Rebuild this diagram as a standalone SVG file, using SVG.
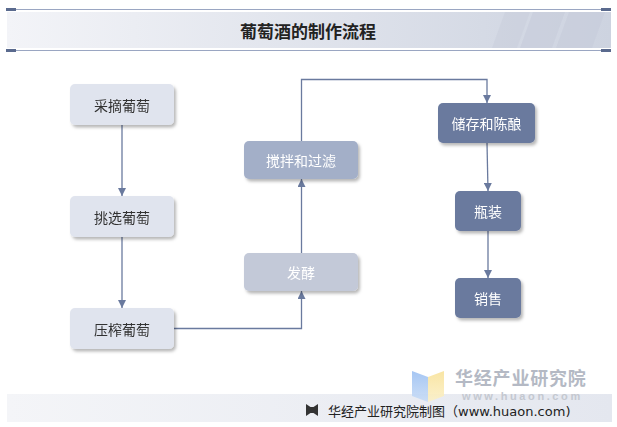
<svg xmlns="http://www.w3.org/2000/svg" width="617" height="427" viewBox="0 0 617 427">
<defs>
<linearGradient id="tg" x1="0" y1="0" x2="1" y2="0">
<stop offset="0" stop-color="#f3f4f8"/>
<stop offset="1" stop-color="#cdd3e0"/>
</linearGradient>
<linearGradient id="fg" x1="0" y1="0" x2="1" y2="0">
<stop offset="0" stop-color="#f4f5f8"/>
<stop offset="1" stop-color="#e4e7ef"/>
</linearGradient>
<linearGradient id="wb" x1="0" y1="0" x2="0" y2="1">
<stop offset="0" stop-color="#9cc0f2"/>
<stop offset="1" stop-color="#c8dcf6"/>
</linearGradient>
<linearGradient id="wy" x1="0" y1="0" x2="0" y2="1">
<stop offset="0" stop-color="#f8e29a"/>
<stop offset="1" stop-color="#fbf0c8"/>
</linearGradient>
<filter id="sh" x="-10%" y="-10%" width="125%" height="140%">
<feDropShadow dx="2" dy="2.5" stdDeviation="1.5" flood-color="#000" flood-opacity="0.28"/>
</filter>
<marker id="ar" markerWidth="8" markerHeight="8" viewBox="0 0 8 8" refX="8" refY="4" orient="auto" markerUnits="userSpaceOnUse">
<path d="M0,0 L8,4 L0,8 z" fill="#6a7a9e"/>
</marker>
</defs>
<style>
.lt{fill:#e0e4ee}
.dk{fill:#6a7a9e}
.tx{font-family:"Noto Sans CJK SC","Liberation Sans",sans-serif;font-size:14px;text-anchor:middle;dominant-baseline:central}
.tk{fill:#333}
.tw{fill:#fff}
.cn{fill:none;stroke:#6a7a9e;stroke-width:1.3}
</style>
<rect width="617" height="427" fill="#fff"/>
<!-- title bar -->
<g id="title">
<rect x="7" y="12" width="604" height="36" fill="url(#tg)"/>
<polygon points="505,12 530,12 517,48 492,48" fill="#c9cfdc" opacity="0.6"/>
<polygon points="533,12 565,12 552,48 520,48" fill="#c6ccda" opacity="0.6"/>
<polygon points="569,12 605,12 592,48 556,48" fill="#c6ccda" opacity="0.6"/>
<line x1="6" y1="9.5" x2="611" y2="9.5" stroke="#9aa6c2" stroke-width="1.2"/>
<line x1="6" y1="50.5" x2="611" y2="50.5" stroke="#9aa6c2" stroke-width="1.2"/>
<rect x="6" y="8" width="10" height="3" fill="#5a6a8e"/>
<rect x="601" y="8" width="10" height="3" fill="#5a6a8e"/>
<rect x="6" y="49" width="10" height="3" fill="#5a6a8e"/>
<rect x="601" y="49" width="10" height="3" fill="#5a6a8e"/>
<text x="308" y="30" font-family="Noto Sans CJK SC,Liberation Sans,sans-serif" font-size="17" font-weight="bold" fill="#222" text-anchor="middle" dominant-baseline="central">葡萄酒的制作流程</text>
</g>
<!-- connectors -->
<g id="connectors">
<line class="cn" x1="122" y1="125" x2="122" y2="196" marker-end="url(#ar)"/>
<line class="cn" x1="122" y1="237" x2="122" y2="308" marker-end="url(#ar)"/>
<polyline class="cn" points="174,328.5 301.5,328.5 301.5,291" marker-end="url(#ar)" stroke="#8e9ab6"/>
<line class="cn" x1="301.5" y1="253" x2="301.5" y2="179" marker-end="url(#ar)"/>
<polyline class="cn" points="301.5,141 301.5,79.5 487,79.5 487,103" marker-end="url(#ar)"/>
<line class="cn" x1="487" y1="143" x2="488" y2="191" marker-end="url(#ar)"/>
<line class="cn" x1="488" y1="231" x2="488" y2="278" marker-end="url(#ar)"/>
</g>
<!-- nodes -->
<g id="n1" filter="url(#sh)"><rect class="lt" x="70" y="84" width="104" height="41" rx="5"/><text class="tx tk" x="122" y="104.5">采摘葡萄</text></g>
<g id="n2" filter="url(#sh)"><rect class="lt" x="70" y="196" width="104" height="41" rx="5"/><text class="tx tk" x="122" y="216.5">挑选葡萄</text></g>
<g id="n3" filter="url(#sh)"><rect class="lt" x="70" y="308" width="104" height="41" rx="5"/><text class="tx tk" x="122" y="328.5">压榨葡萄</text></g>
<g id="n4" filter="url(#sh)"><rect x="244" y="253" width="114" height="38" rx="5" fill="#c3c9d8"/><text class="tx tw" x="301" y="272" font-size="17">发酵</text></g>
<g id="n5" filter="url(#sh)"><rect x="244" y="141" width="114" height="38" rx="5" fill="#a3afc8"/><text class="tx tw" x="301" y="160">搅拌和过滤</text></g>
<g id="n6" filter="url(#sh)"><rect class="dk" x="438" y="103" width="97" height="40" rx="5"/><text class="tx tw" x="486.5" y="123">储存和陈酿</text></g>
<g id="n7" filter="url(#sh)"><rect class="dk" x="455" y="191" width="66" height="40" rx="5"/><text class="tx tw" x="488" y="211">瓶装</text></g>
<g id="n8" filter="url(#sh)"><rect class="dk" x="455" y="278" width="66" height="40" rx="5"/><text class="tx tw" x="488" y="298">销售</text></g>
<!-- footer -->
<g id="footer">
<rect x="7" y="394" width="605" height="28" fill="url(#fg)"/>
<polygon points="412,371 428,377 428,402 412,396" fill="url(#wb)" opacity="0.9"/>
<polygon points="428,377 444,371 444,396 428,402" fill="url(#wy)" opacity="0.9"/>
<text x="455" y="376.5" font-family="Noto Sans CJK SC,Liberation Sans,sans-serif" font-size="18" font-weight="bold" fill="#b4b9c4" letter-spacing="0.8" dominant-baseline="central">华经产业研究院</text>
<text x="462" y="396" font-family="Liberation Sans,sans-serif" font-size="11" font-weight="bold" fill="#c4c8d0" letter-spacing="2.6" dominant-baseline="central">www.huaon.com</text>
<polygon points="306,404 312,408 312,412 306,416" fill="#333"/>
<polygon points="318,404 312,408 312,412 318,416" fill="#333"/>
<rect x="310" y="407" width="4" height="6" fill="#333"/>
<text x="328" y="410.5" font-family="Noto Sans CJK SC,Liberation Sans,sans-serif" font-size="13" fill="#222" dominant-baseline="central">华经产业研究院制图（<tspan font-family="DejaVu Sans,sans-serif">www.huaon.com)</tspan></text>
</g>
</svg>
